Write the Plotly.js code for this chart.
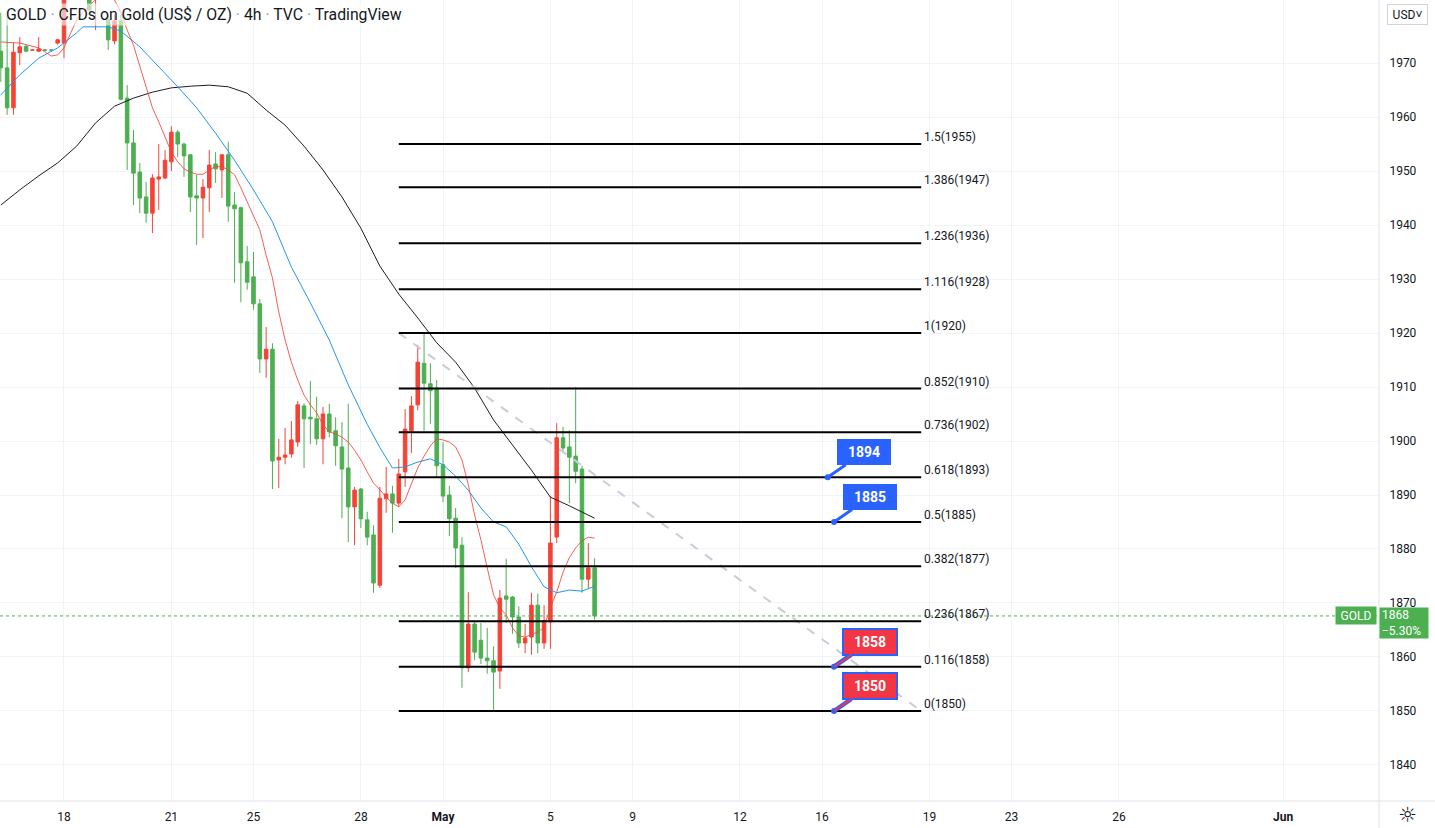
<!DOCTYPE html>
<html><head><meta charset="utf-8">
<script src="https://cdn.plot.ly/plotly-3.0.1.min.js"></script>
<style>html,body{margin:0;padding:0;background:#fff;overflow:hidden}#chart{width:1435px;height:828px}</style>
</head><body><div id="chart"></div>
<script>
// ---- candle data (4h, index = candle position) ----
const openP = [1972.2,1969.1,1961.7,1971.9,1973.1,1972.4,1972.2,1972.4,1972.4,1973.7,
 1973.7,1988.0,1993.0,1987.0,1984.5,1982.0,1984.5,1978.0,1974.1,1977.8,
 1963.5,1955.2,1949.8,1945.2,1942.2,1948.5,1948.7,1951.7,1957.2,1955.0,
 1953.0,1945.4,1945.0,1946.9,1951.3,1950.2,1953.0,1943.7,1943.2,1933.2,
 1930.4,1925.4,1915.2,1917.0,1896.5,1897.0,1897.6,1899.8,1906.5,1904.4,
 1904.1,1900.4,1905.0,1901.9,1898.9,1895.0,1887.8,1891.1,1885.4,1882.6,
 1873.3,1889.3,1890.2,1888.5,1894.3,1901.9,1906.7,1914.4,1910.6,1909.8,
 1895.6,1890.0,1885.7,1880.7,1858.0,1866.1,1863.1,1859.8,1859.3,1857.4,
 1871.3,1871.1,1867.4,1862.6,1863.7,1869.6,1862.6,1866.5,1882.2,1900.6,
 1898.9,1897.2,1894.8,1874.4,1876.5];
const highP = [1979.3,1978.5,1973.7,1974.8,1973.4,1972.5,1974.8,1972.5,1972.5,1974.5,
 1991.0,1998.0,1995.0,1990.0,1986.0,1986.0,1986.0,1978.9,1979.0,1978.9,
 1965.9,1957.6,1951.5,1948.0,1949.4,1955.0,1953.9,1958.3,1957.6,1955.2,
 1953.1,1949.3,1948.5,1953.9,1953.5,1953.1,1955.4,1946.1,1943.4,1936.1,
 1935.0,1926.3,1921.1,1918.1,1900.4,1902.4,1903.7,1907.4,1907.0,1911.1,
 1908.2,1906.3,1906.9,1904.4,1903.5,1906.9,1891.5,1891.3,1886.9,1884.4,
 1891.5,1895.2,1891.7,1896.7,1905.9,1908.3,1917.8,1919.8,1914.4,1911.3,
 1899.8,1891.7,1887.6,1882.2,1872.0,1866.5,1866.3,1865.4,1862.0,1872.4,
 1878.2,1871.3,1869.4,1866.1,1871.9,1871.7,1869.6,1889.8,1903.3,1902.6,
 1902.0,1910.0,1895.4,1881.1,1878.3];
const lowP = [1966.5,1960.4,1960.4,1969.6,1972.0,1972.3,1972.0,1972.3,1972.3,1973.4,
 1970.9,1985.5,1986.0,1983.0,1979.5,1976.1,1982.0,1972.4,1973.5,1963.1,
 1950.2,1943.7,1942.2,1940.4,1938.5,1942.8,1948.5,1950.0,1952.6,1948.9,
 1942.4,1936.3,1937.6,1942.4,1947.8,1945.0,1940.6,1929.3,1925.7,1928.0,
 1924.3,1912.6,1911.7,1891.1,1891.3,1895.7,1896.9,1898.9,1895.0,1899.4,
 1899.3,1895.7,1900.7,1895.4,1885.7,1881.3,1880.7,1883.9,1880.7,1871.9,
 1872.8,1886.7,1883.0,1887.8,1891.5,1897.8,1905.7,1901.9,1903.2,1893.3,
 1888.7,1882.4,1876.5,1854.3,1857.2,1859.4,1858.7,1856.9,1849.8,1854.1,
 1866.3,1864.3,1861.7,1860.7,1860.4,1860.7,1861.5,1861.5,1881.1,1898.0,
 1888.5,1892.2,1871.9,1872.8,1866.9];
const closeP = [1969.1,1961.7,1972.0,1973.0,1972.2,1972.4,1972.6,1972.4,1972.4,1974.3,
 1988.0,1993.0,1987.0,1984.5,1979.8,1984.5,1982.5,1974.3,1977.8,1963.3,
 1955.2,1949.6,1945.0,1942.2,1948.7,1948.9,1952.0,1957.2,1955.0,1952.8,
 1945.2,1945.0,1947.0,1951.1,1950.4,1953.0,1943.5,1943.0,1933.0,1929.4,
 1925.4,1915.2,1917.0,1896.3,1897.0,1897.4,1900.2,1906.7,1904.1,1904.1,
 1900.4,1905.0,1901.7,1899.1,1894.8,1887.8,1890.9,1885.6,1882.2,1873.7,
 1889.4,1890.2,1888.5,1893.9,1902.2,1906.5,1914.6,1910.7,1909.3,1895.4,
 1889.8,1885.6,1880.2,1858.0,1866.1,1860.9,1859.8,1859.3,1857.2,1870.9,
 1870.7,1867.4,1862.6,1863.5,1869.6,1862.6,1866.7,1881.1,1900.6,1898.7,
 1897.0,1894.4,1874.4,1876.5,1867.6];

// ---- moving averages ----
const redX = [0,3,6,8,9,10,12,14,15,16,17,18,19,20,21,22,23,24,25,26,27,28,29,30,31,32,33,34,35,36,37,38,39,40,41,42,43,44,45,46,47,48,49,50,51,52,53,54,55,56,57,58,59,60,61,62,63,64,65,66,67,68,69,70,71,72,73,74,75,76,77,78,79,80,81,82,83,84,85,86,87,88,89,90,91,92,93,94];
const redY = [1973.9,1973.7,1972.8,1971.3,1971.5,1972.8,1978.0,1980.7,1981.7,1982.8,1982.8,1981.7,1979.4,1976.1,1973.3,1969.4,1965.4,1961.7,1959.1,1956.3,1953.5,1951.7,1950.4,1949.8,1949.4,1949.4,1950.2,1950.8,1950.8,1950.2,1949.3,1946.9,1944.3,1942.0,1939.1,1934.4,1930.2,1923.9,1918.7,1914.6,1911.3,1908.5,1906.7,1905.2,1903.0,1901.7,1901.3,1900.7,1899.8,1898.3,1896.5,1894.3,1892.2,1891.0,1889.6,1888.5,1887.8,1889.1,1891.9,1895.0,1897.2,1899.1,1900.4,1900.2,1899.8,1898.9,1896.5,1891.9,1886.3,1881.7,1876.5,1871.5,1869.1,1867.8,1865.4,1863.9,1863.7,1864.1,1864.6,1865.5,1869.2,1872.0,1875.7,1878.4,1880.2,1881.5,1882.2,1882.0];
const blueX = [0,3,6,9,12,13,17,19,22,25,28,31,34,37,40,43,46,49,52,55,58,60,62,64,66,68,70,72,74,76,78,80,82,84,86,88,90,92,94];
const blueY = [1964.1,1967.8,1970.9,1972.8,1975.6,1976.7,1976.7,1975.9,1973.0,1969.3,1965.6,1961.7,1957.0,1952.0,1946.5,1940.6,1932.2,1925.6,1918.7,1910.4,1903.1,1898.8,1895.0,1895.2,1896.1,1896.7,1895.6,1893.5,1890.9,1887.6,1885.0,1884.1,1880.9,1876.7,1873.0,1871.9,1872.4,1872.2,1873.1];
const blackX = [0,3,6,9,12,15,18,21,24,27,30,33,36,39,42,45,48,51,54,57,60,63,66,69,72,75,78,81,84,87,90,94];
const blackY = [1943.7,1946.5,1949.1,1951.5,1954.6,1958.9,1962.0,1963.5,1964.6,1965.4,1965.7,1965.9,1965.6,1964.4,1961.3,1958.5,1954.6,1950.2,1945.2,1939.4,1932.4,1927.2,1922.8,1918.2,1914.6,1909.8,1903.9,1899.3,1894.6,1889.6,1888.0,1885.7];

// ---- fibonacci retracement ----
const fibAnchorX = [63, 145.7];
const fibAnchorY = [1920, 1850];
const fibRatios = ['1.5','1.386','1.236','1.116','1','0.852','0.736','0.618','0.5','0.382','0.236','0.116','0'];
const fibPrices = [1955, 1947.0, 1936.6, 1928.1, 1920, 1909.7, 1901.6, 1893.3, 1885, 1876.8, 1866.6, 1858.2, 1850];
const fibLabelPrices = [1955,1947,1936,1928,1920,1910,1902,1893,1885,1877,1867,1858,1850];

// ---- callouts ----
const calloutX = [130.9, 131.9, 131.9, 131.9];
const calloutY = [1893.3, 1885, 1858.2, 1850];
const calloutText = ['1894','1885','1858','1850'];

// ---- axes ----
const xTickPos = [10,27,40,57,70,87,100,117,130,147,160,177,203];
const xTickText = ['18','21','25','28','<b>May</b>','5','9','12','16','19','23','26','<b>Jun</b>'];
const priceTicks = [1840,1850,1860,1870,1880,1890,1900,1910,1920,1930,1940,1950,1960,1970];
const symbol = 'GOLD';
const changePct = -5.30;

const RED = '#f44336', GREEN = '#4caf50', BLUE = '#2962ff';
const FONT = 'Roboto, "Liberation Sans", sans-serif';
const idx = openP.map((_, i) => i);
const lastClose = closeP[closeP.length - 1];

const traces = [];
traces.push({
  type: 'candlestick', x: idx, open: openP, high: highP, low: lowP, close: closeP,
  increasing: {line: {color: RED, width: 1}, fillcolor: RED},
  decreasing: {line: {color: GREEN, width: 1}, fillcolor: GREEN},
  whiskerwidth: 0, hoverinfo: 'skip'
});
traces.push({type:'scatter', mode:'lines', x: blackX, y: blackY, line:{color:'#1e1e1e', width:1}, hoverinfo:'skip'});
traces.push({type:'scatter', mode:'lines', x: blueX, y: blueY, line:{color:'#2196f3', width:1}, hoverinfo:'skip'});
traces.push({type:'scatter', mode:'lines', x: redX, y: redY, line:{color:'rgba(244,67,54,0.85)', width:1}, hoverinfo:'skip'});

// diagonal trend line of the fib tool
traces.push({type:'scatter', mode:'lines', x: fibAnchorX, y: fibAnchorY,
  line:{color:'#c9ccd6', width:2, dash:'dash'}, hoverinfo:'skip'});

// fib levels
const fx = [], fy = [];
fibPrices.forEach(p => { fx.push(fibAnchorX[0], fibAnchorX[1], null); fy.push(p, p, null); });
traces.push({type:'scatter', mode:'lines', x: fx, y: fy, line:{color:'#000', width:2}, hoverinfo:'skip', connectgaps:false});

// callout anchor dots
traces.push({type:'scatter', mode:'markers', x: calloutX, y: calloutY,
  marker:{color: BLUE, size:6}, hoverinfo:'skip'});

const annotations = [];
// title
const sep = ' <span style="color:#9598a1">·</span> ';
annotations.push({
  xref:'paper', yref:'paper', x:0, y:1, xanchor:'left', yanchor:'top', xshift:4, yshift:-3,
  text: symbol + sep + 'CFDs on Gold (US$ / OZ)' + sep + '4h' + sep + 'TVC' + sep + 'TradingView',
  showarrow:false, font:{family:FONT, size:15.8, color:'#131722'}, bgcolor:'rgba(255,255,255,0.6)', borderpad:1
});
// fib labels
fibPrices.forEach((p, k) => {
  annotations.push({
    xref:'x', yref:'y', x: fibAnchorX[1], y: p, xanchor:'left', yanchor:'bottom', xshift:1, yshift:-2,
    text: fibRatios[k] + '(' + fibLabelPrices[k] + ')', showarrow:false,
    font:{family:FONT, size:12, color:'#131722'}
  });
});
// callouts
calloutX.forEach((x, k) => {
  const up = calloutY[k] > lastClose;
  const base = {
    xref:'x', yref:'y', x: x, y: calloutY[k], text:'<b>' + calloutText[k] + '</b>',
    showarrow:true, arrowhead:0, ax:36, ay:-25, standoff:0,
    bgcolor: up ? BLUE : '#f23645', bordercolor: BLUE, borderwidth: up ? 1 : 2, borderpad:3,
    width: 46, height: 18, font:{family:FONT, size:14, color:'#fff'}
  };
  annotations.push(Object.assign({}, base, {arrowcolor: BLUE, arrowwidth: up ? 3 : 4.5}));
  if (!up) annotations.push(Object.assign({}, base, {arrowcolor: '#f23645', arrowwidth: 2}));
});
// price tags
annotations.push({
  xref:'paper', yref:'y', x:1, y:lastClose, xanchor:'right', yanchor:'middle', xshift:-2,
  text: symbol, showarrow:false, bgcolor: GREEN, borderpad:2, width:36, height:13,
  font:{family:FONT, size:12, color:'#fff'}
});
annotations.push({
  xref:'paper', yref:'y', x:1, y:lastClose, xanchor:'left', yanchor:'top', yshift:9, xshift:0,
  text: Math.round(lastClose) + '<br>\u2212' + Math.abs(changePct).toFixed(2) + '%', align:'left',
  showarrow:false, bgcolor: GREEN, borderpad:2, width:44, height:26,
  font:{family:FONT, size:12, color:'#fff'}
});
// USD button
annotations.push({
  xref:'paper', yref:'paper', x:1, y:1, xanchor:'left', yanchor:'top', xshift:8, yshift:-4,
  text:'USD\u02c5', showarrow:false, bordercolor:'#d1d4dc', borderwidth:1, borderpad:3,
  width:33, height:13, font:{family:FONT, size:12, color:'#131722'}
});
// settings icon
annotations.push({
  xref:'paper', yref:'paper', x: 1 + 28/1379, y: -14/801, xanchor:'center', yanchor:'middle',
  text:'\u263c', showarrow:false, font:{family:'DejaVu Sans', size:21, color:'#131722'}
});

const shapes = [
  {type:'line', xref:'paper', yref:'y', x0:0, x1:1, y0:lastClose, y1:lastClose,
   line:{color:GREEN, width:1, dash:'dot'}},
  {type:'line', xref:'paper', yref:'paper', x0:1, x1:1, y0:-27/801, y1:1,
   line:{color:'#e0e3eb', width:1}},
  {type:'line', xref:'paper', yref:'paper', x0:0, x1:1435/1379, y0:0, y1:0,
   line:{color:'#e0e3eb', width:1}}
];

const layout = {
  width:1435, height:828,
  margin:{l:0, r:56, t:0, b:27, pad:0},
  paper_bgcolor:'#ffffff', plot_bgcolor:'#ffffff',
  showlegend:false, hovermode:false, dragmode:false,
  boxgap:0.2,
  font:{family:FONT, size:12, color:'#131722'},
  xaxis:{type:'linear', range:[-0.13, 218.17], tickmode:'array', tickvals:xTickPos, ticktext:xTickText,
    showgrid:true, gridcolor:'#f0f3fa', zeroline:false, showline:false,
    ticks:'outside', ticklen:5, tickcolor:'rgba(0,0,0,0)', rangeslider:{visible:false},
    tickfont:{family:FONT, size:12, color:'#131722'}, fixedrange:true},
  yaxis:{side:'right', range:[1833.33, 1981.67], tickmode:'array', tickvals:priceTicks,
    showgrid:true, gridcolor:'#f0f3fa', zeroline:false, showline:false,
    ticks:'outside', ticklen:7, tickcolor:'rgba(0,0,0,0)',
    tickfont:{family:FONT, size:12, color:'#131722'}, fixedrange:true},
  shapes: shapes,
  annotations: annotations
};

Plotly.newPlot('chart', traces, layout, {staticPlot:true, displayModeBar:false});
</script>
</body></html>
